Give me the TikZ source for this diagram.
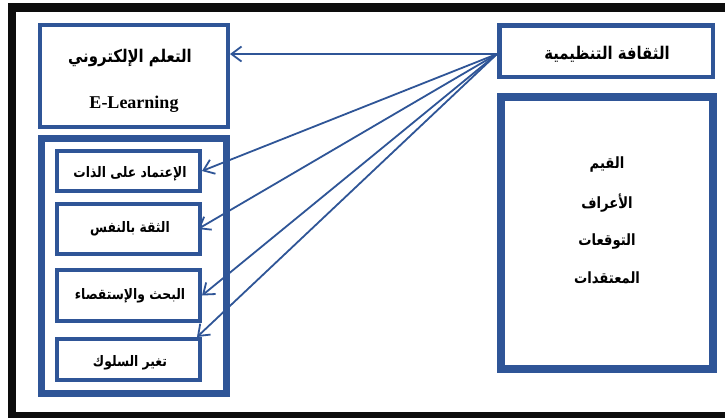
\documentclass[tikz,border=0pt]{standalone}
\usepackage{fontspec}
\setmainfont{Liberation Serif}
\newfontfamily\arabicfont[Script=Arabic,FakeStretch=0.85]{DejaVu Sans}
\TeXXeTstate=1
\usetikzlibrary{arrows.meta}
\definecolor{bblue}{RGB}{47,85,151}
\tikzset{
  box/.style={draw=bblue, line width=4pt, rectangle, inner sep=0pt},
  bigbox/.style={draw=bblue, line width=7.5pt, rectangle, inner sep=0pt},
  ar/.style={font=\arabicfont\bfseries\fontsize{#1}{#1}\selectfont, inner sep=0pt},
  conn/.style={draw=bblue, line width=1.8pt, -{Straight Barb[length=10pt,width=15pt,line width=1.8pt]}},
}
\begin{document}
\begin{tikzpicture}[x=1pt,y=-1pt]
\useasboundingbox (0,0) rectangle (725,418);
\fill[white] (0,0) rectangle (725,418);
% black frame
\fill[black!95] (8,3) rectangle (725,12);
\fill[black!95] (8,3) rectangle (16,418);
\fill[black!95] (8,412) rectangle (725,418);
% left side
\node[box, minimum width=188pt, minimum height=102pt] (el) at (134,76) {};
\node[ar=17.5] (elt) at (130,58) {\beginR التعلم الإلكتروني\endR};
\node[font=\bfseries\fontsize{18}{18}\selectfont] (ele) at (134,104) {E-Learning};
\node[bigbox, minimum width=185pt, minimum height=255pt] (cont) at (134,266) {};
\node[box, minimum width=143pt, minimum height=40pt] (b1) at (128.5,171) {};
\node[box, minimum width=143pt, minimum height=50pt] (b2) at (128.5,229) {};
\node[box, minimum width=143pt, minimum height=51pt] (b3) at (128.5,295.5) {};
\node[box, minimum width=143pt, minimum height=41pt] (b4) at (128.5,359.5) {};
\node[ar=14.5] (t1) at (130,174) {\beginR الإعتماد على الذات\endR};
\node[ar=14.5] (t2) at (130,229) {\beginR الثقة بالنفس\endR};
\node[ar=14.5] (t3) at (130,296) {\beginR البحث والإستقصاء\endR};
\node[ar=14.5] (t4) at (130,363) {\beginR تغير السلوك\endR};
% right side
\node[box, line width=4.5pt, minimum width=213.5pt, minimum height=51.5pt] (oc) at (606,51) {};
\node[ar=17.5] (oct) at (607,54) {\beginR الثقافة التنظيمية\endR};
\node[bigbox, line width=8pt, minimum width=212pt, minimum height=272pt] (lst) at (607,233) {};
\node[ar=15.5] (l1) at (607,164) {\beginR القيم\endR};
\node[ar=15.5] (l2) at (607,203) {\beginR الأعراف\endR};
\node[ar=15.5] (l3) at (607,241) {\beginR التوقعات\endR};
\node[ar=15.5] (l4) at (607,278) {\beginR المعتقدات\endR};
% connectors
\coordinate (src) at ([yshift=-3pt]oc.west);
\draw[conn] (src) -- (el.east |- src);
\draw[conn] (src) -- (b1.east);
\draw[conn] (src) -- ([xshift=-4pt]b2.east);
\draw[conn] (src) -- (b3.east);
\draw[conn] (src) -- ([xshift=-5pt]b4.north east);
\end{tikzpicture}
\end{document}
